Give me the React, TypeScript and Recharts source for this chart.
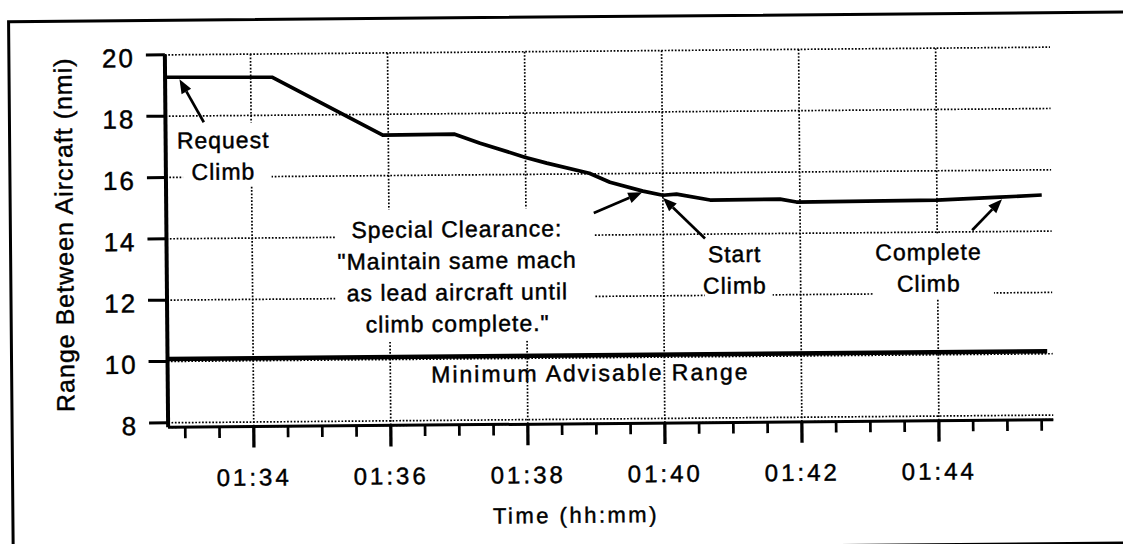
import React from "react"
import { LineChart, Line, XAxis, YAxis, CartesianGrid, ReferenceArea, ReferenceLine, ReferenceDot } from "recharts"

const FONT = '"Liberation Sans", Arial, Helvetica, sans-serif'
const TEXT = { fill: "#000", stroke: "#000", strokeWidth: 0.45, fontFamily: FONT }

// time is minutes past 01:00, range in nmi
const timeMin = [32.75, 34.31, 35.92, 36.97, 37.34, 37.99, 38.31, 38.93, 39.23, 39.71, 40.0, 40.2, 40.69, 41.71, 41.95, 44.0, 44.92, 45.53]
const rangeNmi = [19.27, 19.24, 17.32, 17.33, 17.03, 16.56, 16.36, 16.02, 15.72, 15.42, 15.28, 15.31, 15.11, 15.12, 15.02, 15.04, 15.12, 15.18]

const minRangeTime = [32.75, 45.59]
const minRangeNmi = [10.08, 10.08]

const yTicks = [8, 10, 12, 14, 16, 18, 20]
const xTicks = [33, 33.5, 34, 34.5, 35, 35.5, 36, 36.5, 37, 37.5, 38, 38.5, 39, 39.5, 40, 40.5, 41, 41.5, 42, 42.5, 43, 43.5, 44, 44.5, 45, 45.5]
const xMajor = [34, 36, 38, 40, 42, 44]
const xLabels = ["01:34", "01:36", "01:38", "01:40", "01:42", "01:44"]

// annotation text, anchored (centre of first baseline) in data units
const noteLines = [
  ["Request", "Climb"],
  ["Special Clearance:", "\"Maintain same mach", "as lead aircraft until", "climb complete.\""],
  ["Start", "Climb"],
  ["Complete", "Climb"],
]
const noteTime = [33.59, 36.99, 41.04, 43.87]
const noteRange = [16.94, 13.97, 13.08, 13.09]

// white patches that break the grid behind the notes
const maskTime = [[33.0, 34.29], [35.21, 38.99], [40.6, 41.59], [43.06, 44.82]]
const maskRange = [[15.72, 17.77], [10.58, 14.89], [11.73, 13.71], [11.83, 13.95]]

// arrows: tail -> head
const arrowTime = [[33.31, 32.96], [38.99, 39.7], [40.61, 40.0], [44.51, 44.95]]
const arrowRange = [[17.79, 19.2], [14.72, 15.38], [13.86, 15.2], [14.05, 15.05]]

const series = timeMin.map((t, i) => ({ t, r: rangeNmi[i] }))
const minRange = minRangeTime.map((t, i) => ({ t, r: minRangeNmi[i] }))

function Arrow(p: any) {
  const { x1, y1, x2, y2 } = p
  const dx = x2 - x1
  const dy = y2 - y1
  const len = Math.hypot(dx, dy) || 1
  const ux = dx / len
  const uy = dy / len
  const hl = 14
  const hw = 5.5
  const bx = x2 - ux * hl
  const by = y2 - uy * hl
  return (
    <g>
      <line x1={x1} y1={y1} x2={bx} y2={by} stroke="#000" strokeWidth={2.7} />
      <polygon points={`${x2},${y2} ${bx - uy * hw},${by + ux * hw} ${bx + uy * hw},${by - ux * hw}`} fill="#000" />
    </g>
  )
}

function XTick(p: any) {
  const { x, y, payload } = p
  const idx = xMajor.indexOf(payload.value)
  const major = idx >= 0
  return (
    <g>
      <line x1={x} y1={y} x2={x} y2={y + (major ? 21 : 11)} stroke="#000" strokeWidth={major ? 3.3 : 2.7} />
      {major && (
        <text x={x} y={y + 59} textAnchor="middle" fontSize={24} letterSpacing={3} {...TEXT}>
          {xLabels[idx]}
        </text>
      )}
    </g>
  )
}

function YTick(p: any) {
  const { x, y, payload } = p
  return (
    <text x={x} y={y + 12} textAnchor="end" fontSize={26} letterSpacing={2} {...TEXT}>
      {payload.value}
    </text>
  )
}

export default function App() {
  return (
    <div style={{ position: "absolute", left: 0, top: 0, width: 1123, height: 544, overflow: "hidden", background: "#fff" }}>
      <div style={{ position: "absolute", left: 0, top: 0, width: 1123, height: 544, transform: "rotate(-0.5deg)", transformOrigin: "609px 240px" }}>
        <div style={{ position: "absolute", left: 9, top: 15, width: 1140, height: 527.5, border: "3.5px solid #000" }} />
        <LineChart width={1123} height={544} margin={{ top: 51, right: 71.3, bottom: 0, left: 0 }}>
          <CartesianGrid stroke="#000" strokeWidth={1.7} strokeDasharray="1.7 1.7" verticalValues={xMajor} />
          <XAxis
            dataKey="t"
            type="number"
            domain={[32.75, 45.67]}
            allowDataOverflow
            ticks={xTicks}
            interval={0}
            height={120.5}
            tickSize={0}
            tickMargin={0}
            tickLine={false}
            axisLine={{ stroke: "#000", strokeWidth: 3 }}
            tick={<XTick />}
            label={(props: any) => {
              const vb = props.viewBox
              return (
                <text x={vb.x + 407} y={vb.y + 99} textAnchor="middle" fontSize={22} letterSpacing={2.5} {...TEXT}>
                  Time (hh:mm)
                </text>
              )
            }}
          />
          <YAxis
            type="number"
            domain={[7.85, 20]}
            allowDataOverflow
            ticks={yTicks}
            interval={0}
            width={166.5}
            tickSize={19}
            tickMargin={11}
            tickLine={{ stroke: "#000", strokeWidth: 3 }}
            axisLine={{ stroke: "#000", strokeWidth: 4 }}
            tick={<YTick />}
            label={() => (
              <text x={73} y={230} transform="rotate(-90, 73, 230)" textAnchor="middle" fontSize={25} letterSpacing={1} {...TEXT}>
                Range Between Aircraft (nmi)
              </text>
            )}
          />
          {maskTime.map((m, i) => (
            <ReferenceArea
              key={`mask-${i}`}
              x1={m[0]}
              x2={m[1]}
              y1={maskRange[i][0]}
              y2={maskRange[i][1]}
              fill="#fff"
              fillOpacity={1}
              stroke="none"
              ifOverflow="visible"
            />
          ))}
          <Line data={minRange} dataKey="r" stroke="#000" strokeWidth={4.5} dot={false} isAnimationActive={false} />
          <Line data={series} dataKey="r" stroke="#000" strokeWidth={3.7} strokeLinejoin="round" dot={false} isAnimationActive={false} />
          {arrowTime.map((a, i) => (
            <ReferenceLine
              key={`arrow-${i}`}
              segment={[{ x: a[0], y: arrowRange[i][0] }, { x: a[1], y: arrowRange[i][1] }]}
              shape={Arrow}
              ifOverflow="visible"
            />
          ))}
          {noteLines.map((lines, i) => (
            <ReferenceDot
              key={`note-${i}`}
              x={noteTime[i]}
              y={noteRange[i]}
              r={1}
              ifOverflow="visible"
              shape={(p: any) => (
                <text x={p.cx} y={p.cy} textAnchor="middle" fontSize={23} letterSpacing={1} {...TEXT}>
                  {lines.map((s, j) => (
                    <tspan key={j} x={p.cx} dy={j === 0 ? 0 : 31.5}>
                      {s}
                    </tspan>
                  ))}
                </text>
              )}
            />
          ))}
          <ReferenceDot
            x={38.92}
            y={9.24}
            r={1}
            ifOverflow="visible"
            shape={(p: any) => (
              <text x={p.cx} y={p.cy} textAnchor="middle" fontSize={23} letterSpacing={2} {...TEXT}>
                Minimum Advisable Range
              </text>
            )}
          />
        </LineChart>
      </div>
    </div>
  )
}
